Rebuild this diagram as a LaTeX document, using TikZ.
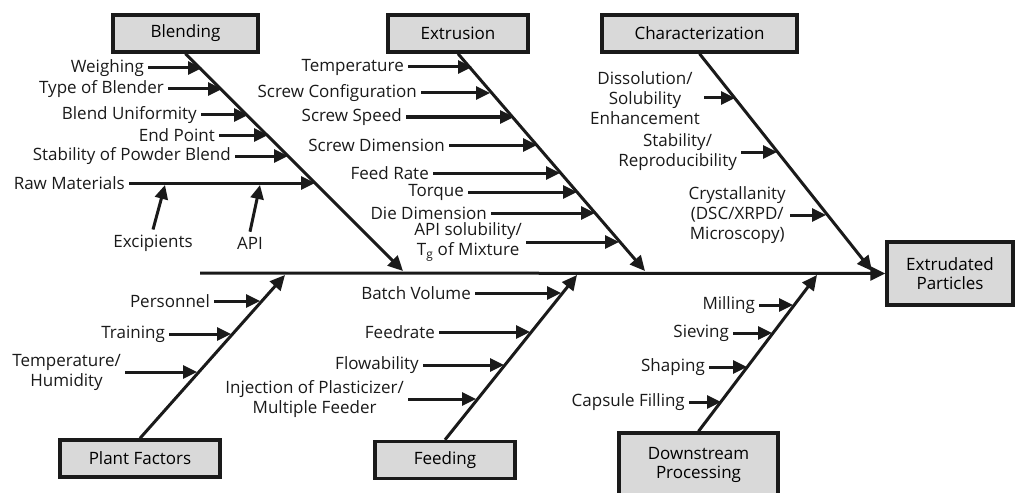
\documentclass[tikz,border=0pt]{standalone}
\usepackage{fontspec}
\setmainfont{Open Sans}
\usetikzlibrary{arrows.meta}

\definecolor{boxgray}{HTML}{D9D9D9}
\definecolor{ink}{HTML}{1A1A1A}

\tikzset{
	catbox/.style={draw=ink, line width=3.4pt, fill=boxgray, minimum height=37pt, align=center, inner sep=0pt},
	bone/.style={draw=ink, line width=3pt, -{Triangle[length=15pt,width=14pt]}},
	sub/.style={draw=ink, line width=3pt, -{Triangle[length=14pt,width=13pt]}},
	lbl/.style={anchor=east, align=center, inner sep=4pt, text=ink},
	lblup/.style={align=center, inner sep=5pt, text=ink}
}

\begin{document}
\begin{tikzpicture}[x=1pt, y=-1pt, font=\fontsize{17}{20}\selectfont]
	\useasboundingbox (0,0) rectangle (1016,492);
	% category boxes
	\node[catbox, minimum width=145pt] (blend) at (185.5,33.5) {Blending};
	\node[catbox, minimum width=140pt] (extr) at (458,33.5) {Extrusion};
	\node[catbox, minimum width=195pt] (charz) at (699.5,33.5) {Characterization};
	\node[catbox, minimum width=160pt] (plant) at (140,458.5) {Plant Factors};
	\node[catbox, minimum width=140pt] (feed) at (445,460) {Feeding};
	\node[catbox, minimum width=159pt, minimum height=64pt] (down) at (698.5,465) {Downstream\\[-1pt]Processing};
	\node[catbox, minimum width=126pt, minimum height=63pt] (prod) at (950,273.5) {Extrudated\\[-1pt]Particles};
	% spine and bones
	\coordinate (spine) at (200,273);
	\draw[bone] (spine) -- (prod.west);
	\coordinate (blendend) at (403,271);
	\coordinate (extrend) at (645,271);
	\coordinate (charzend) at (872,271);
	\coordinate (plantend) at (285,275);
	\coordinate (feedend) at (577,275);
	\coordinate (downend) at (817,275);
	\draw[bone] (blend.south) -- (blendend);
	\draw[bone] (extr.south) -- (extrend);
	\draw[bone] (charz.south) -- (charzend);
	\draw[bone] (plant.north) -- (plantend);
	\draw[bone] (feed.north) -- (feedend);
	\draw[bone] (down.north) -- (downend);
	% Blending
	\node[lbl] (wgh) at (148,68) {Weighing};
	\node[lbl] (tob) at (168,89) {Type of Blender};
	\node[lbl] (bu) at (201,115) {Blend Uniformity};
	\node[lbl] (ep) at (219,135) {End Point};
	\node[lbl] (spb) at (235,156) {Stability of Powder Blend};
	\node[lbl] (raw) at (129,183) {Raw Materials};
	\coordinate (wghtip) at (202,68);
	\coordinate (tobtip) at (222,89);
	\coordinate (butip) at (248,115);
	\coordinate (eptip) at (268,135);
	\coordinate (spbtip) at (288,156);
	\coordinate (rawtip) at (315,183);
	\draw[sub] (wgh) -- (wghtip);
	\draw[sub] (tob) -- (tobtip);
	\draw[sub] (bu) -- (butip);
	\draw[sub] (ep) -- (eptip);
	\draw[sub] (spb) -- (spbtip);
	\draw[sub] (raw) -- (rawtip);
	\node[lblup] (exc) at (153,243) {Excipients};
	\node[lblup] (api) at (250,243) {API};
	\coordinate (exctip) at (165,185);
	\coordinate (apitip) at (260,185);
	\draw[sub] (exc.north) -- (exctip);
	\draw[sub] (api.north) -- (apitip);
	% Extrusion
	\node[lbl] (temp) at (408,67) {Temperature};
	\node[lbl] (scfg) at (421,93) {Screw Configuration};
	\node[lbl] (sspd) at (406,117) {Screw Speed};
	\node[lbl] (sdim) at (449,145) {Screw Dimension};
	\node[lbl] (frate) at (433,173) {Feed Rate};
	\node[lbl] (torq) at (468,192) {Torque};
	\node[lbl] (ddim) at (491,213) {Die Dimension};
	\node[lbl] (apis) at (526,242) {API solubility/\\T\textsubscript{g} of Mixture};
	\coordinate (temptip) at (472,67);
	\coordinate (scfgtip) at (490,93);
	\coordinate (sspdtip) at (514,117);
	\coordinate (sdimtip) at (537,145);
	\coordinate (fratetip) at (560,173);
	\coordinate (torqtip) at (577,192);
	\coordinate (ddimtip) at (595,213);
	\coordinate (apistip) at (619,242);
	\draw[sub] (temp) -- (temptip);
	\draw[sub] (scfg) -- (scfgtip);
	\draw[sub] (sspd) -- (sspdtip);
	\draw[sub] (sdim) -- (sdimtip);
	\draw[sub] (frate) -- (fratetip);
	\draw[sub] (torq) -- (torqtip);
	\draw[sub] (ddim) -- (ddimtip);
	\draw[sub] (apis) -- (apistip);
	% Characterization
	\node[lbl] (diss) at (704,98) {Dissolution/\\Solubility\\Enhancement};
	\node[lbl] (stab) at (741,152) {Stability/\\Reproducibility};
	\node[lbl] (cryst) at (790,215) {Crystallanity\\(DSC/XRPD/\\Microscopy)};
	\coordinate (disstip) at (735,98);
	\coordinate (stabtip) at (777,152);
	\coordinate (crysttip) at (826,215);
	\draw[sub] (diss) -- (disstip);
	\draw[sub] (stab) -- (stabtip);
	\draw[sub] (cryst) -- (crysttip);
	% Plant Factors
	\node[lbl] (pers) at (214,301) {Personnel};
	\node[lbl] (train) at (169,334) {Training};
	\node[lbl] (hum) at (125,372) {Temperature/\\Humidity};
	\coordinate (perstip) at (260,301);
	\coordinate (traintip) at (231,334);
	\coordinate (humtip) at (197,372);
	\draw[sub] (pers) -- (perstip);
	\draw[sub] (train) -- (traintip);
	\draw[sub] (hum) -- (humtip);
	% Feeding
	\node[lbl] (bvol) at (475,293) {Batch Volume};
	\node[lbl] (frd) at (439,332) {Feedrate};
	\node[lbl] (flow) at (423,365) {Flowability};
	\node[lbl] (inj) at (408,399) {Injection of Plasticizer/\\Multiple Feeder};
	\coordinate (bvoltip) at (561,293);
	\coordinate (frdtip) at (530,332);
	\coordinate (flowtip) at (504,365);
	\coordinate (injtip) at (476,399);
	\draw[sub] (bvol) -- (bvoltip);
	\draw[sub] (frd) -- (frdtip);
	\draw[sub] (flow) -- (flowtip);
	\draw[sub] (inj) -- (injtip);
	% Downstream Processing
	\node[lbl] (mill) at (759,305) {Milling};
	\node[lbl] (siev) at (733,333) {Sieving};
	\node[lbl] (shap) at (709,367) {Shaping};
	\node[lbl] (caps) at (689,402) {Capsule Filling};
	\coordinate (milltip) at (793,305);
	\coordinate (sievtip) at (772,333);
	\coordinate (shaptip) at (747,367);
	\coordinate (capstip) at (721,402);
	\draw[sub] (mill) -- (milltip);
	\draw[sub] (siev) -- (sievtip);
	\draw[sub] (shap) -- (shaptip);
	\draw[sub] (caps) -- (capstip);
\end{tikzpicture}
\end{document}
